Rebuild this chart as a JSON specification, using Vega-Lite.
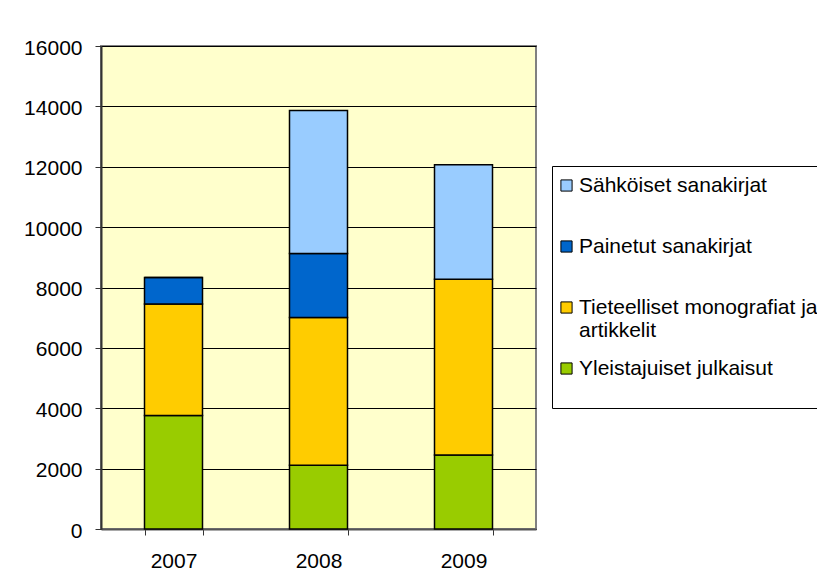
{
  "$schema": "https://vega.github.io/schema/vega-lite/v6.json",
  "autosize": {"type": "none"},
  "width": 435,
  "height": 483,
  "padding": {"left": 101, "top": 46, "right": 281, "bottom": 58},
  "background": "white",
  "data": {
    "values": [
      {"vuosi": "2007", "luokka": "Yleistajuiset julkaisut", "jarjestys": 1, "maara": 3760},
      {"vuosi": "2007", "luokka": "Tieteelliset monografiat ja artikkelit", "jarjestys": 2, "maara": 3690},
      {"vuosi": "2007", "luokka": "Painetut sanakirjat", "jarjestys": 3, "maara": 880},
      {"vuosi": "2007", "luokka": "Sähköiset sanakirjat", "jarjestys": 4, "maara": 0},
      {"vuosi": "2008", "luokka": "Yleistajuiset julkaisut", "jarjestys": 1, "maara": 2110},
      {"vuosi": "2008", "luokka": "Tieteelliset monografiat ja artikkelit", "jarjestys": 2, "maara": 4900},
      {"vuosi": "2008", "luokka": "Painetut sanakirjat", "jarjestys": 3, "maara": 2120},
      {"vuosi": "2008", "luokka": "Sähköiset sanakirjat", "jarjestys": 4, "maara": 4730},
      {"vuosi": "2009", "luokka": "Yleistajuiset julkaisut", "jarjestys": 1, "maara": 2450},
      {"vuosi": "2009", "luokka": "Tieteelliset monografiat ja artikkelit", "jarjestys": 2, "maara": 5820},
      {"vuosi": "2009", "luokka": "Painetut sanakirjat", "jarjestys": 3, "maara": 0},
      {"vuosi": "2009", "luokka": "Sähköiset sanakirjat", "jarjestys": 4, "maara": 3800}
    ]
  },
  "mark": {"type": "bar", "stroke": "black", "strokeWidth": 1.5},
  "encoding": {
    "x": {
      "field": "vuosi",
      "type": "nominal",
      "scale": {"paddingInner": 0.6, "paddingOuter": 0.3},
      "axis": {
        "title": null,
        "labelAngle": 0,
        "tickBand": "extent",
        "tickSize": 6,
        "tickColor": "#333333",
        "tickWidth": 1,
        "domainColor": "#555555",
        "domainWidth": 2,
        "labelFontSize": 21,
        "labelPadding": 15,
        "labelColor": "black",
        "grid": false
      }
    },
    "y": {
      "field": "maara",
      "type": "quantitative",
      "stack": "zero",
      "scale": {"domain": [0, 16000], "nice": false},
      "axis": {
        "title": null,
        "values": [0, 2000, 4000, 6000, 8000, 10000, 12000, 14000, 16000],
        "format": "d",
        "tickSize": 6,
        "tickColor": "#333333",
        "labelPadding": 13,
        "labelOffset": 2,
        "labelFontSize": 21,
        "labelColor": "black",
        "gridColor": "black",
        "gridWidth": 1,
        "gridOpacity": 1,
        "domainColor": "#333333",
        "domainWidth": 2
      }
    },
    "color": {
      "field": "luokka",
      "type": "nominal",
      "scale": {
        "domain": ["Sähköiset sanakirjat", "Painetut sanakirjat", "Tieteelliset monografiat ja artikkelit", "Yleistajuiset julkaisut"],
        "range": ["#99CCFF", "#0066CC", "#FFCC00", "#99CC00"]
      },
      "legend": {
        "orient": "none",
        "legendX": 451,
        "legendY": 120,
        "title": " ",
        "titleOrient": "bottom",
        "titleFontSize": 14,
        "titlePadding": 6,
        "strokeColor": "black",
        "fillColor": "white",
        "padding": 9,
        "labelFontSize": 21,
        "labelColor": "black",
        "labelLimit": 500,
        "labelOffset": 2,
        "symbolOffset": -5,
        "symbolType": "square",
        "symbolSize": 125,
        "symbolStrokeColor": "black",
        "symbolStrokeWidth": 1,
        "symbolOpacity": 1,
        "gridAlign": "all",
        "rowPadding": 16,
        "labelExpr": "datum.label == 'Tieteelliset monografiat ja artikkelit' ? ['Tieteelliset monografiat ja', 'artikkelit'] : datum.label"
      }
    },
    "order": {"field": "jarjestys", "type": "quantitative"}
  },
  "config": {
    "font": "Liberation Sans",
    "view": {"fill": "#FFFFCC", "stroke": "#808080", "strokeWidth": 2}
  }
}
